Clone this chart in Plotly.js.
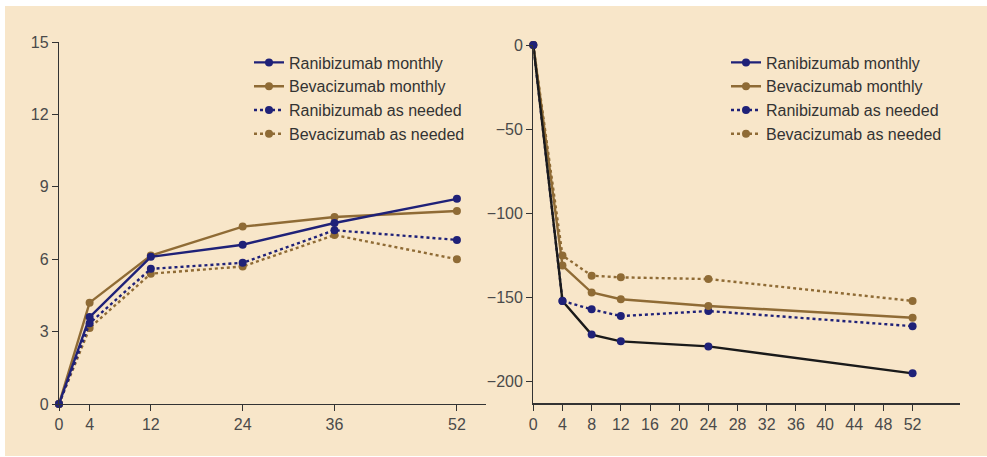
<!DOCTYPE html>
<html><head><meta charset="utf-8">
<script src="https://cdn.plot.ly/plotly-3.0.1.min.js"></script>
<style>
html,body{margin:0;padding:0;background:#fff;}
#bg{position:absolute;left:5px;top:6px;width:982px;height:450px;background:#F8E6C9;}
#chart{position:absolute;left:0;top:0;width:987px;height:457px;}
</style></head>
<body><div id="bg"></div><div id="chart"></div>
<script>
// Left panel (visual acuity letters)
const weeksL = [0, 4, 12, 24, 36, 52];
const ranMonthlyL = [0, 3.6, 6.1, 6.6, 7.5, 8.5];
const bevMonthlyL = [0, 4.2, 6.15, 7.35, 7.75, 8.0];
const ranPrnL = [0, 3.35, 5.6, 5.85, 7.2, 6.8];
const bevPrnL = [0, 3.15, 5.4, 5.7, 7.0, 6.0];
const yTicksL = [0, 3, 6, 9, 12, 15];

// Right panel (retinal thickness change)
const weeksR = [0, 4, 8, 12, 24, 52];
const ranMonthlyR = [0, -152, -172, -176, -179, -195];
const bevMonthlyR = [0, -131, -147, -151, -155, -162];
const ranPrnR = [0, -152, -157, -161, -158, -167];
const bevPrnR = [0, -125, -137, -138, -139, -152];
const yTicksR = [0, -50, -100, -150, -200];
const xTicksR = [0, 4, 8, 12, 16, 20, 24, 28, 32, 36, 40, 44, 48, 52];

const names = ['Ranibizumab monthly', 'Bevacizumab monthly', 'Ranibizumab as needed', 'Bevacizumab as needed'];
const NAVY = '#1F2178', BROWN = '#8F6B35', BLACK = '#1A1A1A';

function tr(x, y, name, color, dash, xa, ya, leg, rank, lineColor, showleg) {
  return {
    x: x, y: y, name: name, type: 'scatter', mode: 'lines+markers',
    line: {color: lineColor || color, width: 2.4, dash: dash},
    marker: {color: color, size: 8},
    xaxis: xa, yaxis: ya, legend: leg, legendrank: rank,
    showlegend: showleg !== false, cliponaxis: false
  };
}

const data = [
  tr(weeksL, bevPrnL, names[3], BROWN, 'dot', 'x', 'y', 'legend', 4),
  tr(weeksL, ranPrnL, names[2], NAVY, 'dot', 'x', 'y', 'legend', 3),
  tr(weeksL, bevMonthlyL, names[1], BROWN, 'solid', 'x', 'y', 'legend', 2),
  tr(weeksL, ranMonthlyL, names[0], NAVY, 'solid', 'x', 'y', 'legend', 1),

  tr(weeksR, bevPrnR, names[3], BROWN, 'dot', 'x2', 'y2', 'legend2', 4),
  tr(weeksR, ranPrnR, names[2], NAVY, 'dot', 'x2', 'y2', 'legend2', 3),
  tr(weeksR, bevMonthlyR, names[1], BROWN, 'solid', 'x2', 'y2', 'legend2', 2),
  tr(weeksR, ranMonthlyR, names[0], NAVY, 'solid', 'x2', 'y2', 'legend2', 1, BLACK, false),
  tr([null], [null], names[0], NAVY, 'solid', 'x2', 'y2', 'legend2', 1)
];

const W = 987, H = 457;
const tickFont = {family: 'Liberation Sans, Arial, sans-serif', size: 16, color: '#4a4a4a'};
const axBase = {
  showgrid: false, zeroline: false, showline: true, linecolor: '#333', linewidth: 1.2,
  ticks: 'outside', ticklen: 6, tickcolor: '#333', tickwidth: 1, tickfont: tickFont, fixedrange: true
};
const legFont = {family: 'Liberation Sans, Arial, sans-serif', size: 16, color: '#333'};

const layout = {
  width: W, height: H,
  margin: {l: 0, r: 0, t: 0, b: 0},
  paper_bgcolor: 'rgba(0,0,0,0)', plot_bgcolor: 'rgba(0,0,0,0)',
  xaxis: Object.assign({}, axBase, {domain: [59/W, 486/W], range: [0, 55.8], tickvals: weeksL, anchor: 'y'}),
  yaxis: Object.assign({}, axBase, {domain: [53/H, 415/H], range: [0, 15], tickvals: yTicksL, anchor: 'x'}),
  xaxis2: Object.assign({}, axBase, {domain: [533.3/W, 960/W], range: [0, 58.5], tickvals: xTicksR, anchor: 'y2'}),
  yaxis2: Object.assign({}, axBase, {domain: [53.7/H, 412/H], range: [-212.8, 0], tickvals: yTicksR, anchor: 'x2'}),
  legend: {x: 249/W, y: 1 - 45.5/H, xanchor: 'left', yanchor: 'top', bgcolor: 'rgba(0,0,0,0)', font: legFont,
           itemwidth: 30},
  legend2: {x: 726/W, y: 1 - 45.5/H, xanchor: 'left', yanchor: 'top', bgcolor: 'rgba(0,0,0,0)', font: legFont,
            itemwidth: 30},
  showlegend: true
};

Plotly.newPlot('chart', data, layout, {displayModeBar: false, staticPlot: true});
</script>
</body></html>
